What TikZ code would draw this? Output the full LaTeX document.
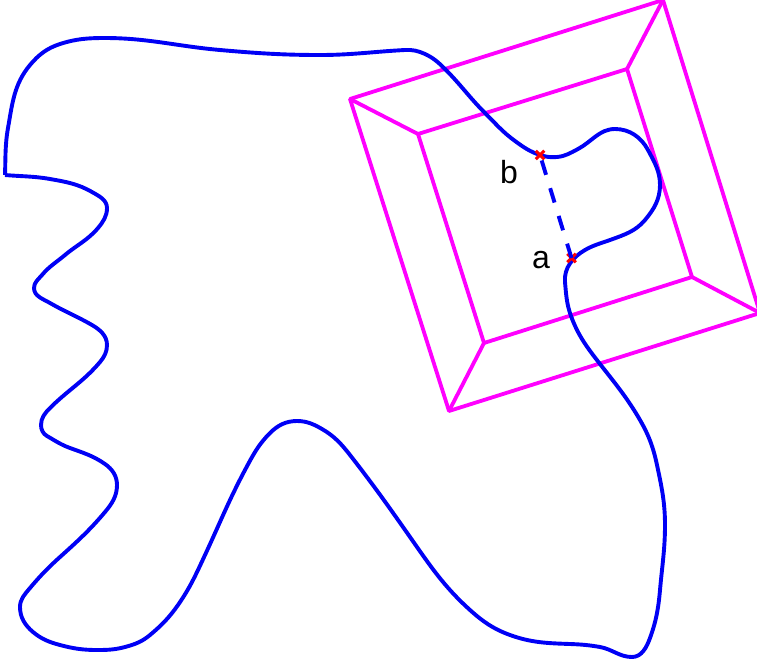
\documentclass[tikz,border=0pt]{standalone}
\usepackage{fontspec}
\setmainfont{Liberation Sans}
\usetikzlibrary{shapes.misc}
\tikzset{
  curveline/.style={draw={rgb,255:red,0;green,0;blue,245},line width=3.9pt,line join=round},
  boxline/.style={draw={rgb,255:red,255;green,0;blue,255},line width=3.8pt,line join=round},
  mark point/.style={cross out,draw=red,line width=3pt,minimum size=8.5pt,inner sep=0pt,outer sep=0pt},
  ptlabel/.style={font=\fontsize{32}{32}\selectfont,inner sep=0pt}
}
\begin{document}
\begin{tikzpicture}[x=1pt,y=-1pt]
\useasboundingbox (0,0) rectangle (757,662);
\clip (0,0) rectangle (757,662);
\coordinate (o1) at (350,99);
\coordinate (o2) at (663,0);
\coordinate (o3) at (760,313);
\coordinate (o4) at (449,411);
\coordinate (i1) at (418,134);
\coordinate (i2) at (627,69);
\coordinate (i3) at (692,277);
\coordinate (i4) at (484,343);
\draw[boxline] (o1)--(o2)--(o3)--(o4)--cycle;
\draw[boxline] (i1)--(i2)--(i3)--(i4)--cycle;
\draw[boxline] (o1)--(i1) (o2)--(i2) (o3)--(i3) (o4)--(i4);
\draw[curveline,looseness=0.95] (5,175)
 \foreach \x/\y/\h [remember=\h as \ph (initially 88)] in {
 8/128/80, 30/65/50, 60/44/18, 105/38/0, 220/50/-5, 320/55/0, 405/50/3, 425/54/-25, 445/69/-45, 485/113/-45, 515/141/-36, 540/155/-18, 557/157/5, 578/149/28, 615/129/0, 648/150/-62, 660/185/-90, 645/220/-130, 610/240/-160, 585/250/-150, 565/282/-85, 571/316/-70, 600/364/-52, 640/420/-60, 657/465/-78, 665/525/-90, 660/590/-95, 650/638/-110, 632/657/180, 600/647/170, 570/644/178, 510/635/160, 470/610/138, 410/537/125, 350/455/128, 322/429/150, 297/421/180, 270/433/-135, 245/470/-118, 205/555/-115, 178/605/-125, 150/635/-140, 125/647/-165, 97/650/180, 60/645/165, 33/632/140, 20/607/90, 30/588/50, 60/557/42, 105/512/50, 117/485/90, 105/464/145, 70/448/160, 47/436/150, 41/425/90, 50/408/45, 100/362/50, 107/345/90, 92/325/150, 50/303/150, 34/288/90, 42/275/50, 65/255/40, 98/228/50, 107/208/90, 92/192/150, 50/179/170, 5/175/175}
 { to[out=\ph,in=\h+180] (\x,\y) };
\node[mark point] (a) at (571.5,258) {};
\node[mark point] (b) at (540,155) {};
\draw[curveline,dash pattern=on 15pt off 14pt] (a.center)--(b.center);
\node[ptlabel] (la) at (541,260) {a};
\node[ptlabel] (lb) at (509,172) {b};
\end{tikzpicture}
\end{document}
